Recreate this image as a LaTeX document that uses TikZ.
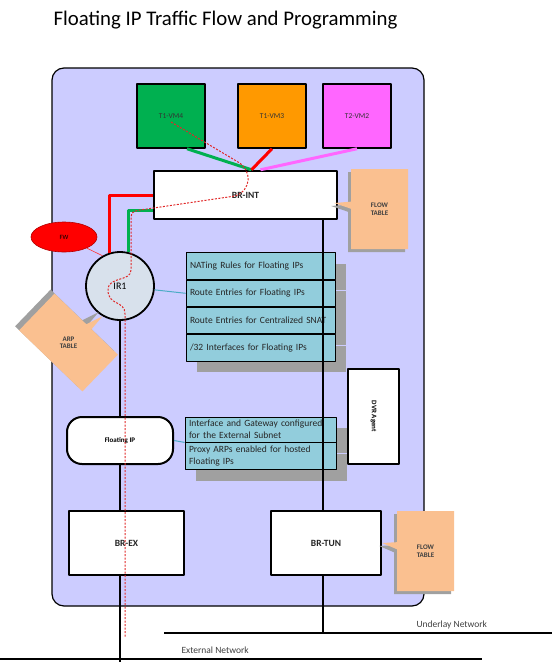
\documentclass[tikz,border=0pt]{standalone}
\usepackage{fontspec}
\setmainfont{Carlito}
\usetikzlibrary{positioning,shapes.geometric,shapes.callouts,shadows}
\definecolor{panel}{RGB}{204,204,255}
\definecolor{vmgreen}{RGB}{0,176,80}
\definecolor{vmorange}{RGB}{255,153,0}
\definecolor{vmpink}{RGB}{255,102,255}
\definecolor{notefill}{RGB}{250,192,144}
\definecolor{rulefill}{RGB}{146,205,220}
\definecolor{irfill}{RGB}{216,225,236}
\definecolor{linkblue}{RGB}{75,172,198}
\definecolor{shadowgray}{RGB}{160,160,160}
\definecolor{dashred}{RGB}{225,40,40}
\begin{document}
\begin{tikzpicture}[x=1pt,y=-1pt,line join=round,
  vm/.style={draw,line width=1.5pt,minimum width=68pt,minimum height=64pt,font=\fontsize{7.5}{9}\selectfont,text=black!80},
  bridge/.style={draw,fill=white,line width=2.5pt,font=\bfseries\fontsize{9.5}{11}\selectfont,text=black!85},
  notebox/.style={rectangle callout,fill=notefill,align=center,font=\bfseries\fontsize{7}{8.5}\selectfont,text=black!75},
  flownote/.style={notebox,minimum width=57pt,minimum height=80pt,drop shadow={shadow xshift=-3pt,shadow yshift=-3pt,fill=shadowgray,opacity=1}},
  arpnote/.style={notebox,minimum width=88pt,minimum height=51pt,drop shadow={shadow xshift=-4pt,shadow yshift=4pt,fill=shadowgray,opacity=1}},
  rulerow/.style={draw,fill=rulefill,line width=0.8pt,minimum width=149pt,minimum height=26.5pt,text width=141pt,inner xsep=2pt,align=left,font=\fontsize{9.5}{12}\selectfont,text=black!85,drop shadow={shadow xshift=11pt,shadow yshift=-11pt,fill=shadowgray,opacity=1}},
  rulerowb/.style={rulerow,minimum width=151pt,text width=143pt,inner ysep=1.5pt,minimum height=25pt},
  flow/.style={line width=3pt},
  wire/.style={line width=2pt},
  link/.style={draw=linkblue,line width=1pt},
  dashflow/.style={draw=dashred,line width=1pt,dash pattern=on 2pt off 1.5pt}]
\useasboundingbox (0,0) rectangle (554,662);
\node[anchor=base west,font=\fontsize{20.8}{25}\selectfont] (title) at (50,25) {Floating IP Traffic Flow and Programming};
\node[draw,fill=panel,line width=1.2pt,rounded corners=12pt,minimum width=372pt,minimum height=538pt] (host) at (238,337) {};
\node[vm,fill=vmgreen] (vm4) at (171,116) {T1-VM4};
\node[vm,fill=vmorange] (vm3) at (272,116) {T1-VM3};
\node[vm,fill=vmpink] (vm2) at (357,116) {T2-VM2};
\node[bridge,minimum width=183pt,minimum height=48pt] (brint) at (245.5,195) {BR-INT};
\node[flownote,callout absolute pointer={([shift={(-4pt,-8pt)}]brint.east)}] (flowtop) at (379.5,209) {FLOW\\TABLE};
\node[ellipse,draw=red!70!black,fill=red,line width=0.6pt,minimum width=66pt,minimum height=30pt,font=\fontsize{6.5}{8}\selectfont] (fw) at (64,237) {FW};
\node[circle,draw,fill=irfill,line width=1.8pt,minimum size=68pt,inner sep=0pt,font=\fontsize{10}{12}\selectfont] (ir1) at (120,286) {IR1};
\node[rulerow] (nat) at (260.5,266) {NATing Rules for Floating IPs};
\node[rulerow,below=0pt of nat] (rte) {Route Entries for Floating IPs};
\node[rulerow,below=0pt of rte] (snat) {Route Entries for Centralized SNAT};
\node[rulerow,below=0pt of snat] (ifc) {/32 Interfaces for Floating IPs};
\node[arpnote,rotate=-44,callout absolute pointer={(ir1.240)}] (arp) at (68.5,342.5) {\rotatebox{44}{\shortstack{ARP\\TABLE}}};
\node[draw,fill=white,line width=1.2pt,rotate=-90,minimum width=95pt,minimum height=51pt,font=\bfseries\fontsize{7}{8}\selectfont] (dvr) at (373.5,416.5) {DVR Agent};
\node[draw,fill=white,line width=2pt,rounded corners=15pt,minimum width=106pt,minimum height=47pt,font=\bfseries\fontsize{7}{8}\selectfont] (fip) at (120,440.5) {Floating IP};
\node[rulerowb] (ifgw) at (260.5,429.5) {Interface and Gateway configured\\for the External Subnet};
\node[rulerowb,below=0pt of ifgw,minimum height=27pt] (parp) {Proxy ARPs enabled for hosted\\Floating IPs};
\node[bridge,minimum width=115pt,minimum height=64pt] (brex) at (126.5,543) {BR-EX};
\node[bridge,minimum width=110pt,minimum height=64pt] (brtun) at (326,543) {BR-TUN};
\node[flownote,callout absolute pointer={(brtun.east)}] (flowbot) at (425.5,551) {FLOW\\TABLE};
\coordinate (tap) at (323,0);
\coordinate (exttap) at (120,662);
\coordinate (extw) at (0,659);
\coordinate (exte) at (482,659);
\coordinate (undw) at (164,633);
\coordinate (unde) at (552,633);
\coordinate (flowend) at (125,637);
\node[anchor=base west,font=\fontsize{9.5}{11}\selectfont,text=black!75] (undlabel) at (413,627) {Underlay Network};
\node[anchor=base west,font=\fontsize{9.5}{11}\selectfont,text=black!75] (extlabel) at (178,653) {External Network};
\draw[flow,vmgreen] ([xshift=16pt]vm4.south) -- ([xshift=6pt]brint.north);
\draw[flow,red] (vm3.south) -- ([xshift=6pt]brint.north);
\draw[flow,vmpink] (vm2.south) -- ([xshift=15pt]brint.north);
\draw[flow,red] (brint.west) -| (ir1.107);
\draw[flow,vmgreen] ([yshift=-15pt]brint.west) -| (ir1.76);
\draw[red!80,line width=0.6pt] (fw) -- (ir1.120);
\draw[link] (rte.west) -- (ir1);
\draw[link] (fip.east) -- (ifgw.south west);
\draw[wire] (ir1) -- (fip);
\draw[wire] (fip.south) -- (fip.south |- brex.north);
\draw[wire] (fip.south |- brex.south) -- (exttap);
\draw[wire] (tap |- brint.south) -- (tap |- brtun.north);
\draw[wire] (tap |- brtun.south) -- (tap |- undw);
\draw[wire] (extw) -- (exte);
\draw[wire] (undw) -- (unde);
\draw[dashflow] ([yshift=-6pt]vm4.center) -- (238,162) .. controls (252,170) and (252,190) .. (235,196) -- (140,210) .. controls (131,212) .. (131,222) -- (131,270) .. controls (131,282) and (108,276) .. (108,290) .. controls (108,306) and (125,300) .. (125,314) -- (flowend);
\end{tikzpicture}
\end{document}
